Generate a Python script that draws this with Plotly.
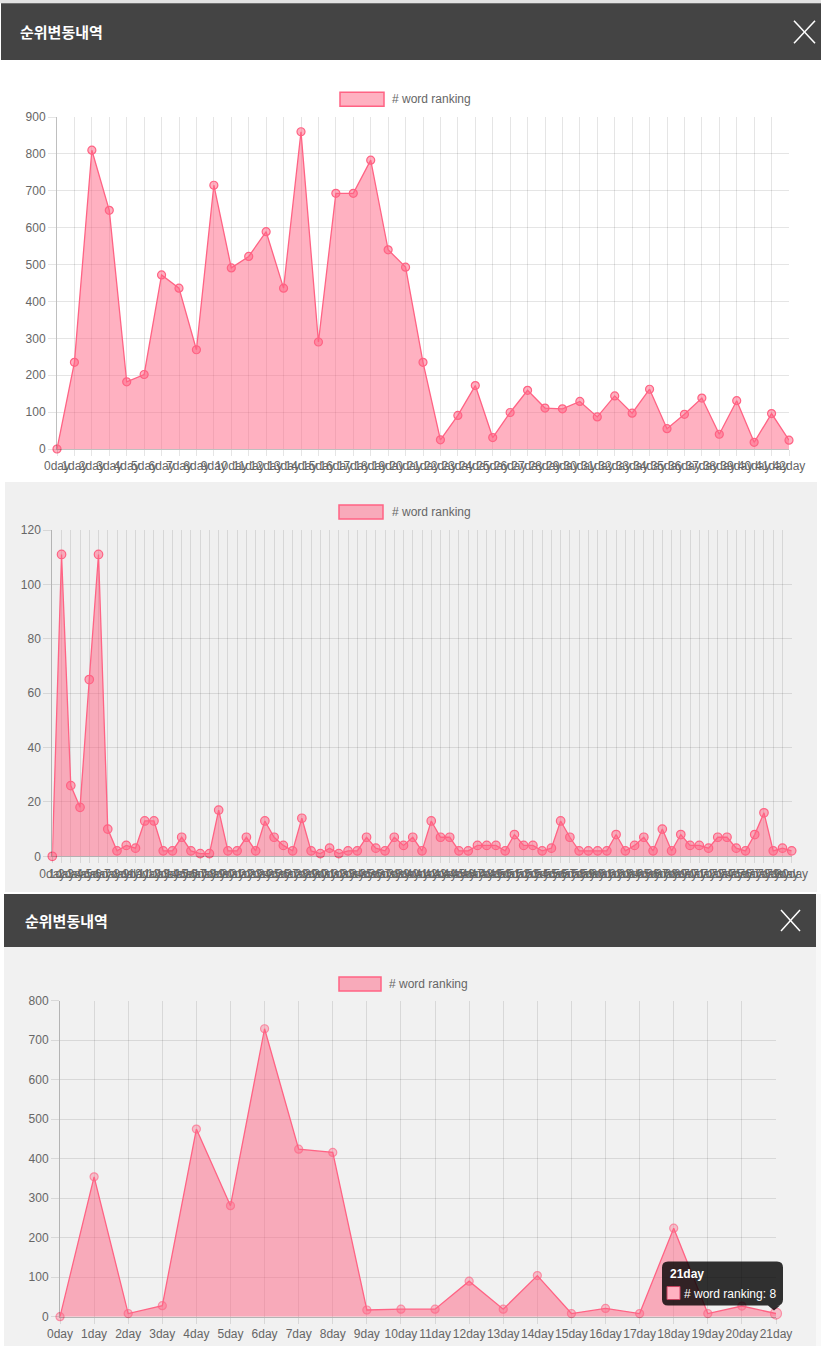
"""Three stacked word-ranking history panels (Chart.js look) rebuilt with Plotly."""
import plotly.graph_objects as go

W, H = 821, 1346

TITLE = "순위변동내역"
SERIES = "# word ranking"

rank1 = [0, 235, 810, 647, 182, 202, 472, 436, 269, 715, 491, 522, 589, 436, 860,
         290, 693, 693, 783, 540, 493, 235, 25, 91, 172, 31, 99, 159, 111, 109,
         129, 87, 144, 97, 162, 55, 94, 138, 40, 131, 18, 96, 24]
rank2 = [0, 111, 26, 18, 65, 111, 10, 2, 4, 3, 13, 13, 2, 2, 7, 2, 1, 1, 17, 2,
         2, 7, 2, 13, 7, 4, 2, 14, 2, 1, 3, 1, 2, 2, 7, 3, 2, 7, 4, 7,
         2, 13, 7, 7, 2, 2, 4, 4, 4, 2, 8, 4, 4, 2, 3, 13, 7, 2, 2, 2,
         2, 8, 2, 4, 7, 2, 10, 2, 8, 4, 4, 3, 7, 7, 3, 2, 8, 16, 2, 3, 2]
rank3 = [0, 354, 8, 28, 475, 281, 729, 424, 416, 17, 19, 19, 90, 19, 104, 8,
         21, 8, 224, 8, 27, 8]

days1 = [f"{i}day" for i in range(len(rank1))]
days2 = [f"{i}day" for i in range(len(rank2))]
days3 = [f"{i}day" for i in range(len(rank3))]

PINK = "rgb(255,99,132)"
PINK_FILL = "rgba(255,99,132,0.5)"
GRID = "rgba(0,0,0,0.1)"
AXIS = "rgba(0,0,0,0.25)"
DARK = "#444444"
TXT = "#666666"
FONT = "Liberation Sans, Arial, sans-serif"
KFONT = "Noto Sans CJK KR, Noto Sans, sans-serif"


def px(x):
    return x / W


def py(y):
    return 1 - y / H


fig = go.Figure()
shapes = []
annotations = []


def rect(x0, y0, x1, y1, color, line=None, width=0):
    shapes.append(dict(type="rect", xref="paper", yref="paper", layer="below",
                       x0=px(x0), x1=px(x1), y0=py(y1), y1=py(y0),
                       fillcolor=color, line=dict(color=line or color, width=width)))


def header(x0, x1, y0, y1, tx, cross):
    rect(x0, y0, x1, y1, DARK)
    annotations.append(dict(xref="paper", yref="paper", x=px(tx), y=py((y0 + y1) / 2),
                            text=TITLE, showarrow=False, xanchor="left", yanchor="middle",
                            font=dict(family=KFONT, size=15, color="white", weight="bold")))
    cx0, cy0, cx1, cy1 = cross
    for a, b in (((cx0, cy0), (cx1, cy1)), ((cx0, cy1), (cx1, cy0))):
        shapes.append(dict(type="line", xref="paper", yref="paper",
                           x0=px(a[0]), y0=py(a[1]), x1=px(b[0]), y1=py(b[1]),
                           line=dict(color="white", width=1.5)))


def legend(bx0, by0, bx1, by1, tx):
    shapes.append(dict(type="rect", xref="paper", yref="paper",
                       x0=px(bx0), x1=px(bx1), y0=py(by1), y1=py(by0),
                       fillcolor=PINK_FILL, line=dict(color=PINK, width=1.5)))
    annotations.append(dict(xref="paper", yref="paper", x=px(tx), y=py((by0 + by1) / 2),
                            text=SERIES, showarrow=False, xanchor="left", yanchor="middle",
                            font=dict(family=FONT, size=12, color=TXT)))


def panel(n, days, vals, box, ymax, dy, msize, sizes=None):
    x0, y0, x1, y1 = box
    sfx = "" if n == 1 else str(n)
    fig.add_trace(go.Scatter(
        x=days, y=vals, mode="lines+markers", name=SERIES,
        xaxis="x" + sfx, yaxis="y" + sfx,
        fill="tozeroy", fillcolor=PINK_FILL,
        line=dict(color=PINK, width=1.3),
        marker=dict(size=sizes or msize, color=PINK_FILL, line=dict(color=PINK, width=1.2)),
        cliponaxis=False, showlegend=False, hoverinfo="skip"))
    fig.layout["xaxis" + sfx] = dict(
        domain=[px(x0), px(x1)], anchor="y" + sfx, type="category", automargin=False,
        range=[0, len(days) - 1], tickmode="array", tickvals=days, ticktext=days,
        tickangle=0, showgrid=True, gridcolor=GRID, gridwidth=1,
        showline=True, linecolor=AXIS, linewidth=1,
        ticks="outside", ticklen=6, tickcolor=GRID,
        tickfont=dict(family=FONT, size=12, color=TXT), fixedrange=True)
    fig.layout["yaxis" + sfx] = dict(
        domain=[py(y1), py(y0)], anchor="x" + sfx, range=[0, ymax], dtick=dy,
        automargin=False,
        showgrid=True, gridcolor=GRID, gridwidth=1, zeroline=False,
        showline=True, linecolor=AXIS, linewidth=1,
        ticks="outside", ticklen=8, tickcolor=GRID,
        tickfont=dict(family=FONT, size=12, color=TXT), fixedrange=True)


# page backgrounds
rect(0, 0, 821, 3.3, "#e2e2e2")
rect(5, 482, 817, 892, "#f0f0f0")
rect(4, 894, 816, 1346, "#f1f1f1")
rect(816, 894, 821, 1346, "#f8f8f8")

# panel 1 (white)
header(1, 821, 3.3, 60, 18, (794, 20.7, 815, 43.3))
legend(340, 92.3, 384, 106.3, 390)
panel(1, days1, rank1, (57, 117, 789, 449), 900, 100, 8)

# panel 2 (grey)
legend(339, 505, 383, 519, 390)
panel(2, days2, rank2, (52.3, 530, 791.7, 856.3), 120, 20, 8.5)

# panel 3 (grey, with tooltip on the last point)
Y3MAX = 800
header(4, 816, 894, 947, 23, (781, 910, 800, 931))
legend(339, 977, 381, 991, 387)
hover = len(rank3) - 1
sizes3 = [8] * len(rank3)
sizes3[hover] = 11
panel(3, days3, rank3, (60, 1000.7, 776, 1316.7), Y3MAX, 100, 8, sizes3)

# tooltip anchored to the hovered point via the axis domains (not clipped)
ax_x = hover / (len(rank3) - 1)
ax_y = rank3[hover] / Y3MAX
tx0, tx1, ty0, ty1, r = -114, 7, 8, 52, 6
tip_path = (f"M{tx0 + r},{ty0} L{tx1 - r},{ty0} Q{tx1},{ty0} {tx1},{ty0 + r} "
            f"L{tx1},{ty1 - r} Q{tx1},{ty1} {tx1 - r},{ty1} L{tx0 + r},{ty1} "
            f"Q{tx0},{ty1} {tx0},{ty1 - r} L{tx0},{ty0 + r} Q{tx0},{ty0} {tx0 + r},{ty0} Z "
            f"M-8,{ty0} L-2,3 L4,{ty0} Z")
shapes.append(dict(type="path", xref="x3 domain", yref="y3 domain",
                   xsizemode="pixel", ysizemode="pixel",
                   xanchor=ax_x, yanchor=ax_y, path=tip_path,
                   fillcolor="rgba(0,0,0,0.8)", line=dict(width=0)))
shapes.append(dict(type="rect", xref="x3 domain", yref="y3 domain",
                   xsizemode="pixel", ysizemode="pixel",
                   xanchor=ax_x, yanchor=ax_y, x0=-109, x1=-96, y0=14, y1=27,
                   fillcolor="#ffb1c1", line=dict(color="#c8405e", width=1)))
annotations.append(dict(xref="x3", yref="y3", x=days3[hover], y=rank3[hover],
                        xshift=-108, yshift=40, xanchor="left", yanchor="middle",
                        text=days3[hover], showarrow=False,
                        font=dict(family=FONT, size=12, color="white", weight="bold")))
annotations.append(dict(xref="x3", yref="y3", x=days3[hover], y=rank3[hover],
                        xshift=-94, yshift=20, xanchor="left", yanchor="middle",
                        text=f"{SERIES}: {rank3[hover]}", showarrow=False,
                        font=dict(family=FONT, size=12, color="white")))

fig.update_layout(
    width=W, height=H, margin=dict(l=0, r=0, t=0, b=0, pad=0),
    paper_bgcolor="white", plot_bgcolor="rgba(0,0,0,0)",
    shapes=shapes, annotations=annotations, showlegend=False,
)
fig.write_html(
    "out.html",
    config={"displayModeBar": False},
    post_script="document.body.style.margin='0';document.body.style.overflow='hidden';",
)
